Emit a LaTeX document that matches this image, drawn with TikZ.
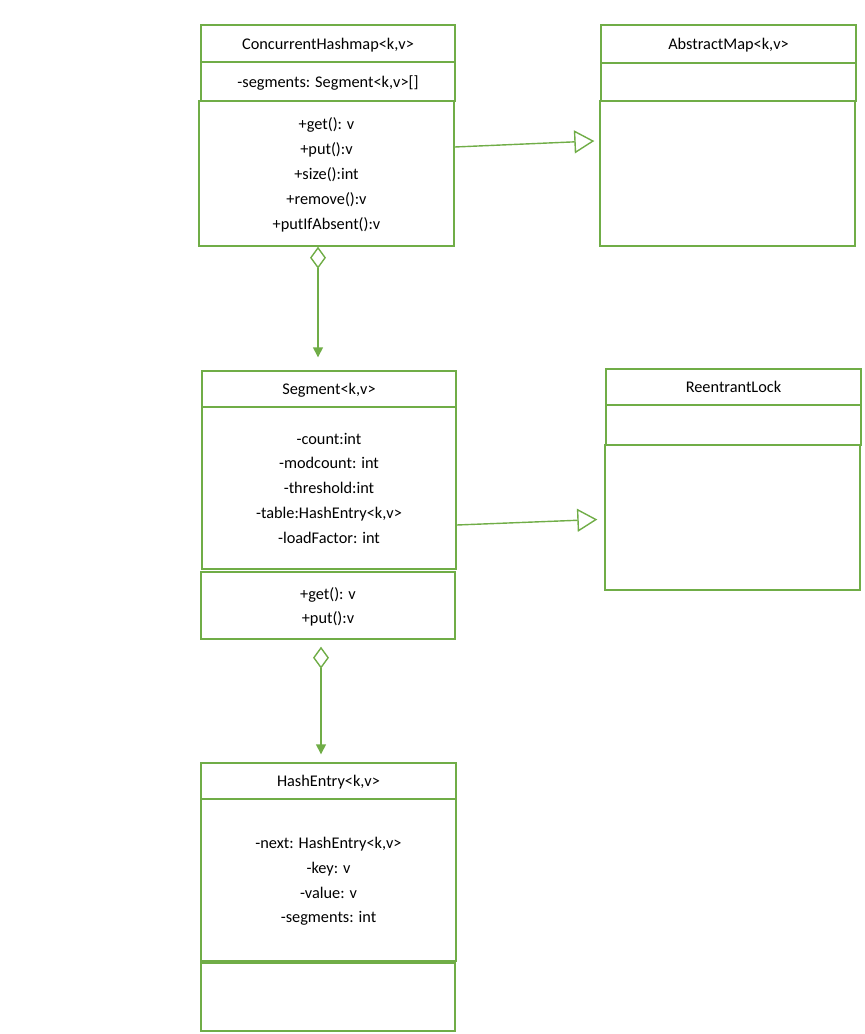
\documentclass[tikz,border=0pt]{standalone}
\usepackage{fontspec}
\setmainfont{Carlito}
\usetikzlibrary{arrows.meta}
\definecolor{umlgreen}{HTML}{70AD47}
\begin{document}
\begin{tikzpicture}[x=1pt,y=-1pt,
  cbox/.style={draw=umlgreen, line width=1.4pt, inner sep=0pt, align=center,
    font=\fontsize{16.3pt}{24.8pt}\selectfont, text=black, text depth=0pt},
  conn/.style={draw=umlgreen, line width=1.4pt},
  gen/.style={-{Triangle[open,length=20pt,width=23pt]}},
  agg/.style={{Diamond[open,length=22pt,width=16pt]}-{Triangle[length=10pt,width=10pt]}}]
\useasboundingbox (0,0) rectangle (865,1034);
% ConcurrentHashmap
\node[cbox, minimum width=254pt, minimum height=37pt] (chmH) at (328,43.5) {ConcurrentHashmap<k,v>};
\node[cbox, minimum width=254pt, minimum height=39pt] (chmA) at (328,81.5) {-segments: Segment<k,v>[]};
\node[cbox, minimum width=255pt, minimum height=145pt] (chmM) at (326.5,173.5) {+get(): v\\+put():v\\+size():int\\+remove():v\\+putIfAbsent():v};
% AbstractMap
\node[cbox, minimum width=255pt, minimum height=38pt] (amH) at (728.5,44) {AbstractMap<k,v>};
\node[cbox, minimum width=255pt, minimum height=38pt] (amA) at (728.5,82) {};
\node[cbox, minimum width=255pt, minimum height=145pt] (amM) at (727.5,173.5) {};
% Segment
\node[cbox, minimum width=254pt, minimum height=36pt] (segH) at (329,389) {Segment<k,v>};
\node[cbox, minimum width=254pt, minimum height=162pt] (segA) at (329,488) {-count:int\\-modcount: int\\-threshold:int\\-table:HashEntry<k,v>\\-loadFactor: int};
\node[cbox, minimum width=254pt, minimum height=67pt] (segM) at (328,605.5) {+get(): v\\+put():v};
% ReentrantLock
\node[cbox, minimum width=255pt, minimum height=36pt] (rlH) at (733.5,387) {ReentrantLock};
\node[cbox, minimum width=255pt, minimum height=40pt] (rlA) at (733.5,425) {};
\node[cbox, minimum width=255pt, minimum height=145pt] (rlM) at (732.5,517.5) {};
% HashEntry
\node[cbox, minimum width=255pt, minimum height=36pt] (heH) at (328.5,781) {HashEntry<k,v>};
\node[cbox, minimum width=255pt, minimum height=162pt] (heA) at (328.5,880) {-next: HashEntry<k,v>\\-key: v\\-value: v\\-segments: int};
\node[cbox, minimum width=254pt, minimum height=68pt] (heM) at (328,997) {};
% connectors
\draw[conn, gen] ([yshift=26.5pt]chmM.east) -- ([xshift=-5pt,yshift=32.5pt]amM.west);
\draw[conn, gen] ([yshift=-37pt]segA.east) -- ([xshift=-7pt,yshift=-2pt]rlM.west);
\draw[conn, agg] ([xshift=-8.5pt]chmM.south) -- ([xshift=-11pt,yshift=13pt]segH.north);
\draw[conn, agg] ([xshift=-7pt,yshift=-7pt]segM.south) -- ([xshift=-7.5pt,yshift=8pt]heH.north);
\end{tikzpicture}
\end{document}
